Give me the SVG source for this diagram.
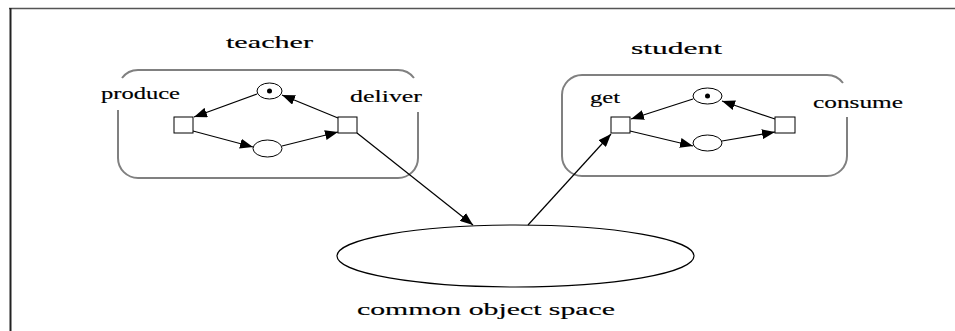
<svg xmlns="http://www.w3.org/2000/svg" width="955" height="331" viewBox="0 0 955 331">
<style>
.lbl{font-family:"Liberation Serif",serif;font-size:16px;fill:#000;stroke:#000;stroke-width:0.15}
.box{fill:none;stroke:#808080;stroke-width:2}
.pn{fill:#fff;stroke:#000;stroke-width:1}
.arc{fill:none;stroke:#000;stroke-width:1.2;marker-end:url(#ah)}
</style>
<defs>
<marker id="ah" markerUnits="userSpaceOnUse" markerWidth="13" markerHeight="10" refX="13" refY="5" orient="auto">
<path d="M0,0 L13,5 L0,10 z" fill="#000"/>
</marker>
</defs>
<rect width="955" height="331" fill="#fff"/>
<g id="frame">
<line x1="9" y1="8.5" x2="955" y2="8.5" stroke="#555" stroke-width="1.5"/>
<line x1="10.5" y1="8" x2="10.5" y2="331" stroke="#222" stroke-width="2"/>
</g>
<g id="teacher">
<path class="box" d="M122,78 A20,20 0 0 1 138,70 L398,70 A20,20 0 0 1 414,78"/>
<path class="box" d="M118,110 L118,158 A20,20 0 0 0 138,178 L398,178 A20,20 0 0 0 418,158 L418,112"/>
<text class="lbl" x="226" y="48" textLength="87" lengthAdjust="spacingAndGlyphs">teacher</text>
<text class="lbl" x="101" y="99" textLength="79" lengthAdjust="spacingAndGlyphs">produce</text>
<text class="lbl" x="350" y="102" textLength="72" lengthAdjust="spacingAndGlyphs">deliver</text>
<ellipse class="pn" cx="269.5" cy="91" rx="12.5" ry="8"/>
<circle cx="269.5" cy="91" r="2.5" fill="#000"/>
<ellipse class="pn" cx="267.5" cy="148.5" rx="14.5" ry="8.5"/>
<rect class="pn" x="174" y="117" width="19" height="16"/>
<rect class="pn" x="338" y="117" width="19" height="16"/>
<path class="arc" d="M257,94 L194,117"/>
<path class="arc" d="M338,118 L282,95"/>
<path class="arc" d="M193,131 L253,147"/>
<path class="arc" d="M282,146 L338,132"/>
</g>
<g id="student">
<path class="box" d="M843,83 A20,20 0 0 0 827,75 L582,75 A20,20 0 0 0 562,95 L562,156 A20,20 0 0 0 582,176 L827,176 A20,20 0 0 0 847,156 L847,117"/>
<text class="lbl" x="631" y="54" textLength="91" lengthAdjust="spacingAndGlyphs">student</text>
<text class="lbl" x="590" y="103" textLength="30" lengthAdjust="spacingAndGlyphs">get</text>
<text class="lbl" x="813" y="108" textLength="90" lengthAdjust="spacingAndGlyphs">consume</text>
<ellipse class="pn" cx="707.5" cy="96" rx="14.5" ry="8"/>
<circle cx="707.5" cy="96" r="2.5" fill="#000"/>
<ellipse class="pn" cx="707.5" cy="143" rx="14.5" ry="8"/>
<rect class="pn" x="611" y="117" width="19" height="16"/>
<rect class="pn" x="775" y="117" width="20" height="16"/>
<path class="arc" d="M693,99 L631,119"/>
<path class="arc" d="M775,119 L722,101"/>
<path class="arc" d="M630,131 L693,146"/>
<path class="arc" d="M722,141 L775,132"/>
</g>
<g id="space">
<ellipse cx="515.5" cy="256" rx="178.5" ry="31" fill="#fff" stroke="#000" stroke-width="1.2"/>
<text class="lbl" x="357" y="315" textLength="258" lengthAdjust="spacingAndGlyphs">common object space</text>
</g>
<g id="connectors">
<path class="arc" d="M357,133 L473,225"/>
<path class="arc" d="M528,225 L611,134"/>
</g>
</svg>
